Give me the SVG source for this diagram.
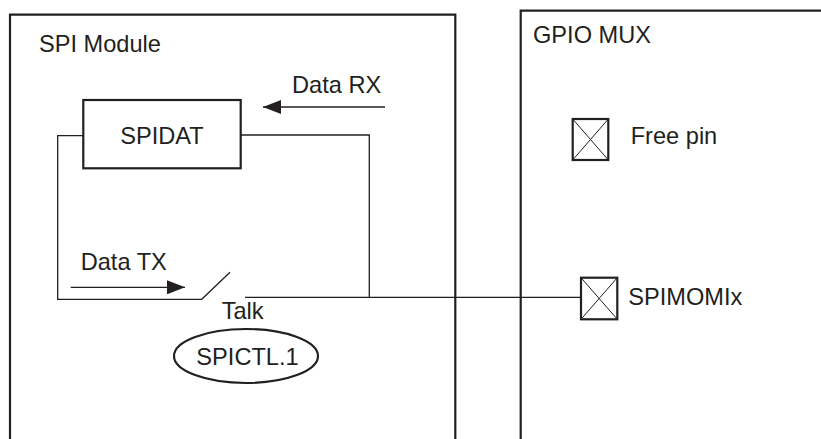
<svg xmlns="http://www.w3.org/2000/svg" width="821" height="439" viewBox="0 0 821 439">
<defs>
<style>
.t{font-family:"Liberation Sans",Arial,Helvetica,sans-serif;font-size:23.6px;fill:#231f20}
.box{fill:none;stroke:#231f20;stroke-width:2.2}
.ln{fill:none;stroke:#231f20;stroke-width:1.3}
.thin{fill:none;stroke:#231f20;stroke-width:1}
</style>
<marker id="ah" viewBox="0 0 18 14" refX="18" refY="7" markerWidth="18" markerHeight="14" markerUnits="userSpaceOnUse" orient="auto">
<path d="M0,0 L18,7 L0,14 Z" fill="#231f20"/>
</marker>
</defs>
<rect width="821" height="439" fill="#fff"/>
<g id="spi-module">
<path class="box" d="M10,439 V14.7 H455.3 V439"/>
<text class="t" x="39" y="51.5">SPI Module</text>
</g>
<g id="gpio-mux">
<path class="box" d="M520.7,439 V10.7 H821"/>
<text class="t" x="533" y="43.3">GPIO MUX</text>
</g>
<g id="spidat">
<rect class="box" x="83.3" y="100" width="157.4" height="68.3"/>
<text class="t" x="162" y="144" text-anchor="middle">SPIDAT</text>
</g>
<g id="free-pin">
<rect class="box" x="572.7" y="119" width="35.6" height="41"/>
<path class="thin" d="M572.7,119 L608.3,160 M608.3,119 L572.7,160"/>
<text class="t" x="630.7" y="144">Free pin</text>
</g>
<g id="spimomix">
<rect class="box" x="581" y="277.7" width="36.3" height="41.6"/>
<path class="thin" d="M581,277.7 L617.3,319.3 M617.3,277.7 L581,319.3"/>
<text class="t" x="628.3" y="305">SPIMOMIx</text>
</g>
<g id="spictl">
<ellipse class="box" cx="246" cy="356" rx="72" ry="27"/>
<text class="t" x="247.5" y="365" text-anchor="middle">SPICTL.1</text>
</g>
<g id="connectors">
<path class="ln" d="M83.3,135.7 H57.7 V299.3 H201.7 L230,272.3"/>
<path class="ln" d="M240.7,135 H369.3 V297.3"/>
<path class="ln" d="M245,297.3 H581"/>
<path class="ln" d="M385,107 H263" marker-end="url(#ah)"/>
<path class="ln" d="M70.7,287.3 H185" marker-end="url(#ah)"/>
</g>
<g id="labels">
<text class="t" x="292" y="92.7">Data RX</text>
<text class="t" x="80.7" y="270">Data TX</text>
<text class="t" x="221.7" y="319">Talk</text>
</g>
</svg>
